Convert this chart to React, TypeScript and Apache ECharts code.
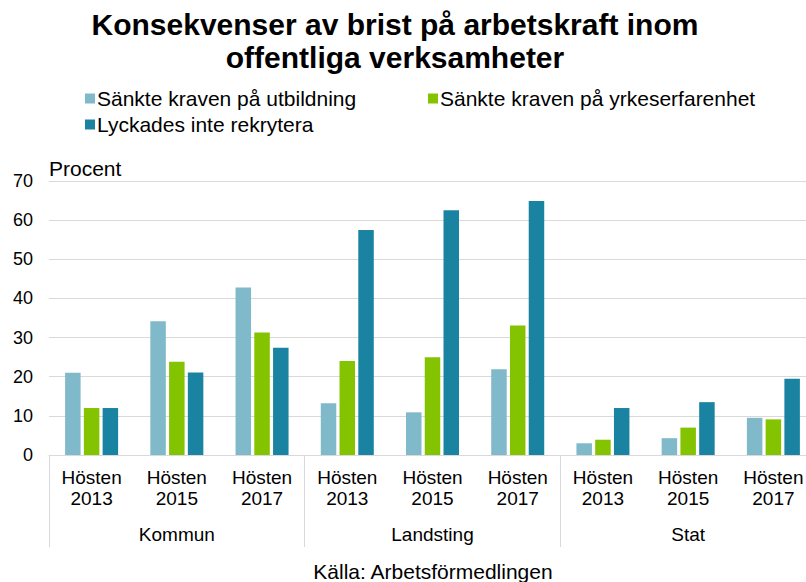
import React, { useEffect, useRef } from "react";
import * as echarts from "echarts";

const categories = [
  "Hösten\n2013", "Hösten\n2015", "Hösten\n2017",
  "Hösten\n2013", "Hösten\n2015", "Hösten\n2017",
  "Hösten\n2013", "Hösten\n2015", "Hösten\n2017",
];
const groups = ["Kommun", "Landsting", "Stat"];
const seriesNames = [
  "Sänkte kraven på utbildning",
  "Sänkte kraven på yrkeserfarenhet",
  "Lyckades inte rekrytera",
];
const utbildning = [21, 34.2, 42.8, 13.2, 10.9, 21.9, 3.0, 4.3, 9.5];
const yrkeserfarenhet = [12, 23.8, 31.3, 24.0, 25.0, 33.1, 3.9, 7.0, 9.1];
const rekrytera = [12, 21.1, 27.4, 57.5, 62.5, 64.9, 12.0, 13.5, 19.5];
const colors = ["#80b9ca", "#84c300", "#1a83a1"];

const FONT = "Liberation Sans, Arial, sans-serif";

export default function App() {
  const ref = useRef<HTMLDivElement>(null);
  useEffect(() => {
    if (!ref.current) return;
    const chart = echarts.init(ref.current, undefined, { renderer: "svg" });
    const legendPos = [
      { left: 85, top: 88 },
      { left: 428, top: 88 },
      { left: 85, top: 114 },
    ];
    chart.setOption({
      animation: false,
      textStyle: { fontFamily: FONT },
      legend: seriesNames.map((n, i) => ({
        data: [n],
        left: legendPos[i].left,
        top: legendPos[i].top,
        icon: "rect",
        itemWidth: 10,
        itemHeight: 10,
        itemGap: 4,
        padding: 0,
        textStyle: { fontSize: 21, color: "#000", fontFamily: FONT, padding: [2, 0, 0, -3] },
      })),
      grid: { left: 49, right: 0, top: 181, bottom: 127, containLabel: false },
      xAxis: [
        {
          type: "category",
          data: categories,
          position: "bottom",
          axisLine: { show: true, lineStyle: { color: "#d9d9d9", width: 1 } },
          axisTick: { show: false },
          axisLabel: {
            fontSize: 19,
            color: "#000",
            lineHeight: 21,
            margin: 12,
            interval: 0,
            fontFamily: FONT,
          },
        },
        {
          type: "category",
          data: groups,
          position: "bottom",
          axisLine: { show: false },
          axisTick: {
            show: true,
            length: 92,
            alignWithLabel: false,
            interval: 0,
            lineStyle: { color: "#d9d9d9" },
          },
          axisLabel: { fontSize: 19, color: "#000", margin: 70, interval: 0, fontFamily: FONT },
        },
      ],
      yAxis: {
        type: "value",
        min: 0,
        max: 70,
        interval: 10,
        axisLine: { show: false },
        axisTick: { show: false },
        axisLabel: { fontSize: 18, color: "#000", margin: 16, fontFamily: FONT },
        splitLine: { lineStyle: { color: "#d9d9d9", width: 1 } },
      },
      series: [utbildning, yrkeserfarenhet, rekrytera].map((d, i) => ({
        name: seriesNames[i],
        type: "bar",
        xAxisIndex: 0,
        data: d,
        barWidth: 15.5,
        barGap: "21%",
        itemStyle: { color: colors[i] },
      })),
      graphic: [
        {
          type: "text",
          x: 395,
          y: 8,
          style: {
            text: "Konsekvenser av brist på arbetskraft inom\noffentliga verksamheter",
            font: `bold 30px ${FONT}`,
            fill: "#000",
            textAlign: "center",
            lineHeight: 33,
          },
        },
        {
          type: "text",
          x: 49,
          y: 168,
          style: { text: "Procent", font: `21px ${FONT}`, fill: "#000", textVerticalAlign: "middle" },
        },
        {
          type: "text",
          x: 433,
          y: 571,
          style: {
            text: "Källa: Arbetsförmedlingen",
            font: `21px ${FONT}`,
            fill: "#000",
            textAlign: "center",
            textVerticalAlign: "middle",
          },
        },
      ],
    });
    return () => chart.dispose();
  }, []);
  return (
    <div style={{ width: 806, height: 582, position: "absolute", left: 0, top: 0, overflow: "hidden" }}>
      <div ref={ref} style={{ width: 816, height: 582 }} />
    </div>
  );
}
